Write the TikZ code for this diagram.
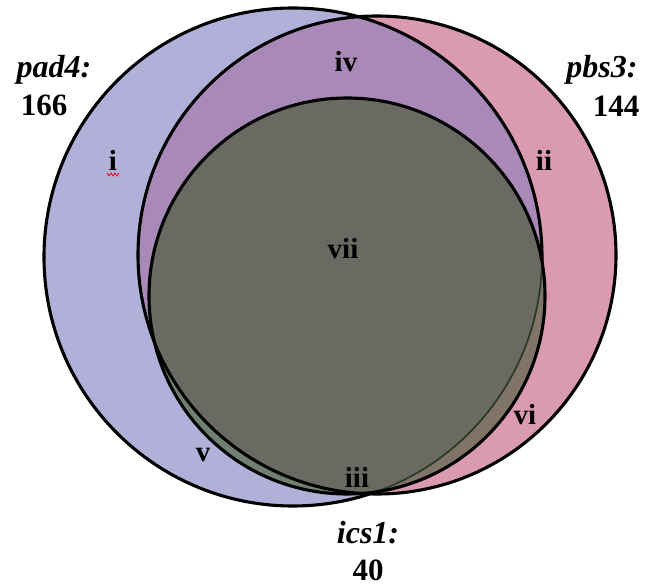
\documentclass[tikz,border=0pt]{standalone}
\usepackage{fontspec}
\setmainfont{Liberation Serif}
\definecolor{bluec}{RGB}{176,176,216}
\definecolor{pinkc}{RGB}{217,154,178}
\definecolor{ivc}{RGB}{168,137,184}
\definecolor{viic}{RGB}{107,106,98}
\definecolor{vc}{RGB}{112,128,112}
\definecolor{vic}{RGB}{128,116,104}
\definecolor{dgreen}{RGB}{40,58,38}
\tikzset{
  outline/.style={draw=black,line width=3.1pt},
  title/.style={font=\fontsize{32}{34}\selectfont\bfseries\itshape,inner sep=0pt},
  count/.style={font=\fontsize{31}{33}\selectfont\bfseries,inner sep=0pt},
  region/.style={font=\fontsize{29}{31}\selectfont\bfseries,inner sep=0pt}
}
\def\blueC{(293,257) circle[radius=249pt]}
\def\pinkC{(377,255) circle[radius=239pt]}
\def\grayC{(347,296) circle[radius=198pt]}
\begin{document}
\begin{tikzpicture}[x=1pt,y=-1pt]
\useasboundingbox (0,0) rectangle (646,588);
% fills
\fill[bluec] \blueC;
\fill[pinkc] \pinkC;
\begin{scope}
  \clip \blueC;
  \fill[ivc] \pinkC;
\end{scope}
\begin{scope}
  \clip \grayC;
  \fill[viic] \grayC;
  \fill[vc] \blueC;
  \fill[vic] \pinkC;
  \clip \blueC;
  \fill[viic] \pinkC;
\end{scope}
% outlines
\begin{scope}[even odd rule]
  \clip (-20,-20) rectangle (670,610) \grayC;
  \draw[outline] \blueC;
\end{scope}
\begin{scope}
  \clip \grayC;
  \draw[draw=dgreen,line width=1.7pt] \blueC;
\end{scope}
\draw[outline] \pinkC;
\draw[outline] \grayC;
% labels
\node[title] (tpad) at (54,70) {pad4:};
\node[count] (npad) at (44,105) {166};
\node[title] (tpbs) at (602,70) {pbs3:};
\node[count] (npbs) at (616,106) {144};
\node[title] (tics) at (368,533) {ics1:};
\node[count] (nics) at (368,570) {40};
\node[region] (ri) at (113,160) {i};
\node[region] (rii) at (544,160) {ii};
\node[region] (riii) at (357,477) {iii};
\node[region] (riv) at (346,62) {iv};
\node[region] (rv) at (203,455) {v};
\node[region] (rvi) at (525,415) {vi};
\node[region] (rvii) at (343,249) {vii};
\draw[red,line width=0.7pt] (107,173)--(109,176)--(111,173)--(113,176)--(115,173)--(117,176)--(119,173);
\end{tikzpicture}
\end{document}
